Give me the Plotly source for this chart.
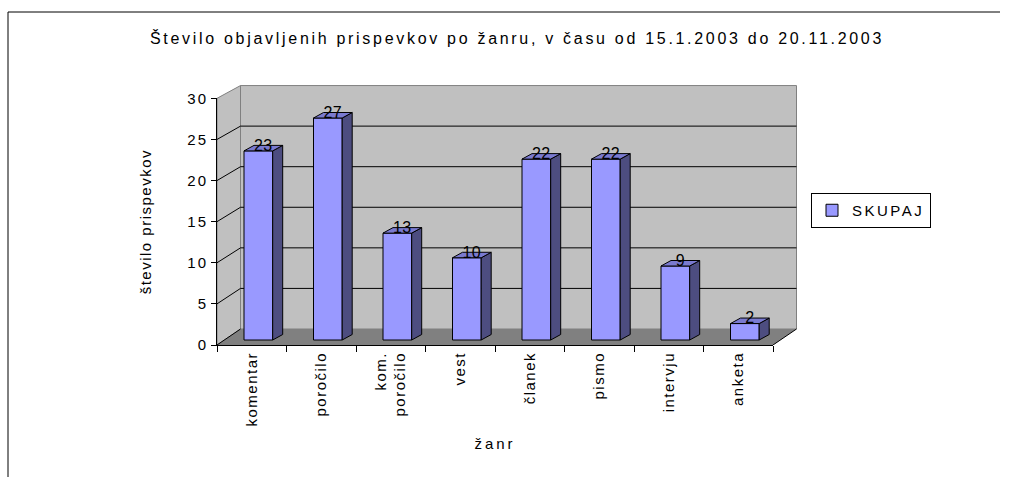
import plotly.graph_objects as go

# ---------------- data ----------------
categories = ["komentar", "poročilo", "kom.<br>poročilo", "vest", "članek", "pismo", "intervju", "anketa"]
values = [23, 27, 13, 10, 22, 22, 9, 2]
y_ticks = [0, 5, 10, 15, 20, 25, 30]
series_name = "SKUPAJ"
title_text = "Število objavljenih prispevkov po žanru, v času od 15.1.2003 do 20.11.2003"
x_title = "žanr"
y_title = "število prispevkov"

# ---------------- style / geometry ----------------
FONT = "Arial, 'Liberation Sans', sans-serif"
FRONT = "#9999FF"
SIDE = "#4D4D80"
TOP = "#7A7AD0"
WALL = "#C0C0C0"
FLOOR = "#808080"
EDGE = "#808080"

WIDTH, HEIGHT = 1013, 477
L, R, T, B = 217, 205, 80, 132
PW = WIDTH - L - R
PH = HEIGHT - T - B
PXX = 69.5      # px per category
PXY = 8.222     # px per value unit
n = len(categories)
ymax = y_ticks[-1]
xr = [-0.5, -0.5 + PW / PXX]
yr = [0, PH / PXY]

DX, DY, BS = 23.5 / PXX, 16 / PXY, 0.987     # wall depth offset
BB = 5 / PXY                                  # bar base lift
BL, BW = -7.75 / PXX, 28.7 / PXX              # bar front left offset, width
BC = BL + BW / 2
SDX, SDY = 10 / PXX, 5.5 / PXY                # bar depth


def sp(text, px):
    return f'<span style="letter-spacing:{px}px">{text}</span>'


def path(pts):
    return "M " + " L ".join(f"{x},{y}" for x, y in pts) + " Z"


x0, x1 = -0.5, n - 0.5
shapes = []
# back wall
shapes.append(dict(type="path", xref="x", yref="y", layer="below",
                   path=path([(x0 + DX, DY), (x1 + DX, DY), (x1 + DX, DY + ymax * BS), (x0 + DX, DY + ymax * BS)]),
                   fillcolor=WALL, line=dict(color=EDGE, width=1)))
# side wall
shapes.append(dict(type="path", xref="x", yref="y", layer="below",
                   path=path([(x0, 0), (x0 + DX, DY), (x0 + DX, DY + ymax * BS), (x0, ymax)]),
                   fillcolor=WALL, line=dict(color=EDGE, width=1)))
# floor
shapes.append(dict(type="path", xref="x", yref="y", layer="below",
                   path=path([(x0, 0), (x1, 0), (x1 + DX, DY), (x0 + DX, DY)]),
                   fillcolor=FLOOR, line=dict(width=0)))
shapes.append(dict(type="line", xref="x", yref="y", layer="below",
                   x0=x1, y0=0, x1=x1 + DX, y1=DY, line=dict(color="black", width=1)))
# gridlines
for v in y_ticks[:-1]:
    if v > 0:
        shapes.append(dict(type="line", xref="x", yref="y", layer="below",
                           x0=x0 + DX, y0=DY + v * BS, x1=x1 + DX, y1=DY + v * BS,
                           line=dict(color="black", width=1)))
    shapes.append(dict(type="line", xref="x", yref="y", layer="below",
                       x0=x0, y0=v, x1=x0 + DX, y1=DY + v * BS,
                       line=dict(color="black", width=1)))

# outer frame


def xp(px):
    return (px - L) / PW


def yp(py):
    return (T + PH - py) / PH


shapes.append(dict(type="line", xref="paper", yref="paper", x0=xp(8), x1=xp(8), y0=yp(12), y1=yp(480),
                   line=dict(color="black", width=1)))
shapes.append(dict(type="line", xref="paper", yref="paper", x0=xp(8), x1=xp(1000), y0=yp(12), y1=yp(12),
                   line=dict(color="black", width=1)))

fig = go.Figure()

# bar fronts
bx = [i + BC for i in range(n)]
fig.add_trace(go.Bar(x=bx, y=values, base=BB, width=BW, name=sp(series_name, 2.5),
                     marker=dict(color=FRONT, line=dict(color="black", width=1)),
                     hoverinfo="skip"))

# side and top faces
sx, sy, tx, ty = [], [], [], []
for i, v in enumerate(values):
    l = i + BL
    r = l + BW
    top = BB + v
    sx += [r, r, r + SDX, r + SDX, r, None]
    sy += [BB, top, top + SDY, BB + SDY, BB, None]
    tx += [l, r, r + SDX, l + SDX, l, None]
    ty += [top, top, top + SDY, top + SDY, top, None]
fig.add_trace(go.Scatter(x=sx, y=sy, mode="lines", fill="toself", fillcolor=SIDE,
                         line=dict(color="black", width=1), showlegend=False, hoverinfo="skip"))
fig.add_trace(go.Scatter(x=tx, y=ty, mode="lines", fill="toself", fillcolor=TOP,
                         line=dict(color="black", width=1), showlegend=False, hoverinfo="skip"))

# data labels
fig.add_trace(go.Scatter(x=[b + SDX / 2 for b in bx], y=[BB + v + 0.5 for v in values],
                         mode="text", text=[sp(str(v), 0.5) for v in values],
                         textposition="middle center",
                         textfont=dict(family=FONT, size=16, color="black"),
                         showlegend=False, hoverinfo="skip"))

# dummy trace for label axes
cat_labels = [sp(c, 1.5) for c in categories]
fig.add_trace(go.Scatter(x=cat_labels, y=[None] * n, xaxis="x2", yaxis="y2", mode="markers",
                         showlegend=False, hoverinfo="skip"))

fig.update_layout(
    width=WIDTH, height=HEIGHT,
    margin=dict(l=L, r=R, t=T, b=B, autoexpand=False),
    paper_bgcolor="white", plot_bgcolor="rgba(0,0,0,0)",
    font=dict(family=FONT, size=15, color="black"),
    shapes=shapes,
    showlegend=True,
    title=dict(text=sp(title_text, 2.7), x=517 / WIDTH, y=1 - 38 / HEIGHT, xref="container", yref="container",
               xanchor="center", yanchor="middle", font=dict(family=FONT, size=16, color="black")),
    legend=dict(x=xp(811), y=yp(193), xanchor="left", yanchor="top", bgcolor="white",
                bordercolor="black", borderwidth=1, itemwidth=30,
                font=dict(family=FONT, size=15, color="black")),
    xaxis=dict(visible=False, range=xr, fixedrange=True),
    yaxis=dict(visible=False, range=yr, fixedrange=True),
    xaxis2=dict(type="category", categoryorder="array", categoryarray=cat_labels,
                domain=[0, n / (xr[1] - xr[0])], range=[-0.5, n - 0.5], anchor="y2",
                showline=True, linecolor="black", linewidth=1, showgrid=False, zeroline=False,
                ticks="outside", tickson="boundaries", ticklen=6, tickcolor="black", tickangle=-90,
                tickfont=dict(family=FONT, size=15, color="black"), fixedrange=True,
                title=dict(text=sp(x_title, 3), standoff=12, font=dict(family=FONT, size=15, color="black"))),
    yaxis2=dict(domain=[0, ymax / yr[1]], range=[0, ymax], anchor="x2",
                showline=True, linecolor="black", linewidth=1, showgrid=False, zeroline=False,
                ticks="outside", ticklen=5, tickcolor="black", fixedrange=True,
                tickmode="array", tickvals=y_ticks, ticktext=[sp(str(v), 2) for v in y_ticks],
                tickfont=dict(family=FONT, size=15, color="black"),
                title=dict(text=sp(y_title, 1.5), standoff=32, font=dict(family=FONT, size=15, color="black"))),
)

fig.write_html("out.html", config={"displayModeBar": False},
               post_script="document.body.style.margin='0';")
